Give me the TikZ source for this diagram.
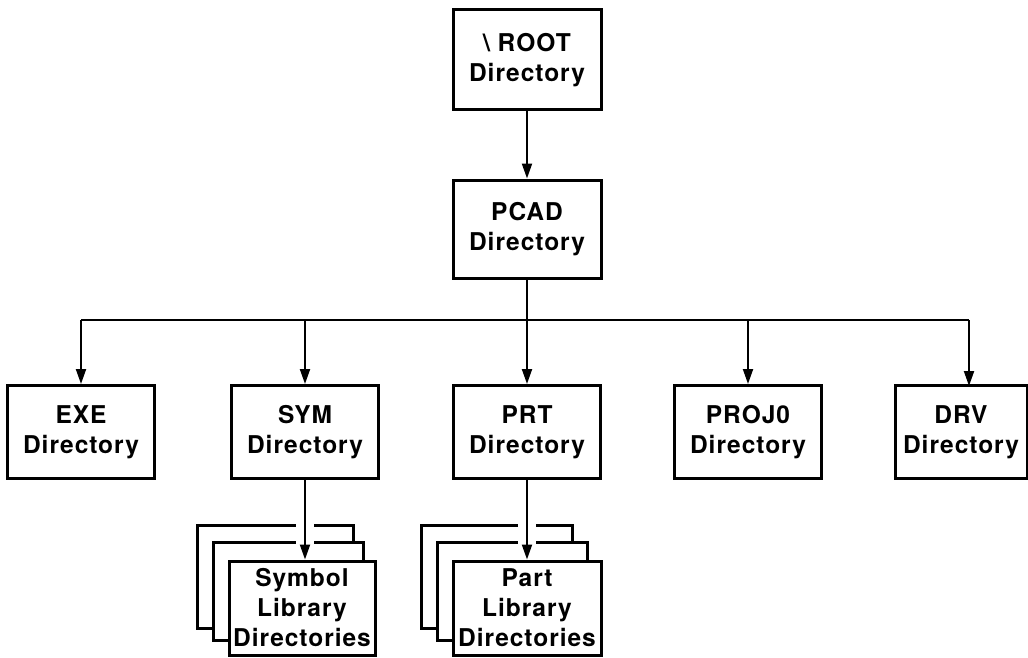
\documentclass[tikz,border=0pt]{standalone}
\usepackage{fontspec}
\setmainfont{TeX Gyre Heros}[LetterSpace=4]
\usetikzlibrary{arrows.meta}
\begin{document}
\begin{tikzpicture}[x=1pt, y=-1pt,
    dirbox/.style={draw, line width=3pt, fill=white, minimum width=147pt, minimum height=93pt,
                   align=center, inner sep=0pt, font=\fontsize{24.5}{30}\selectfont\bfseries},
    backbox/.style={draw, line width=3pt, fill=white},
    link/.style={line width=2pt},
    gap/.style={white, line width=18pt},
    >={Triangle[length=15pt,width=10pt]}]
    \useasboundingbox (0,0) rectangle (1028,658);
    % top of the tree
    \node[dirbox, minimum width=148pt, minimum height=100pt] (root) at (527,60) {\textbackslash\ ROOT\\Directory};
    \node[dirbox, minimum width=148pt, minimum height=98pt] (pcad) at (527,229) {PCAD\\Directory};
    \draw[link,->] (root) -- (pcad);
    % second level
    \node[dirbox] (exe) at (81,432) {EXE\\Directory};
    \node[dirbox] (sym) at (305,432) {SYM\\Directory};
    \node[dirbox] (prt) at (527,432) {PRT\\Directory};
    \node[dirbox] (proj) at (748,432) {PROJ0\\Directory};
    \node[dirbox, minimum width=132pt] (drv) at (961,432) {DRV\\Directory};
    \coordinate (bus) at (527,320);
    \coordinate (drvin) at (969,386);
    \draw[link] (pcad) -- (bus);
    \draw[link] (exe.north |- bus) -- (drvin |- bus);
    \foreach \n in {exe,sym,prt,proj} \draw[link,->] (\n.north |- bus) -- (\n.north);
    \draw[link,->] (drvin |- bus) -- (drvin);
    % library stacks
    \draw[backbox] (197,525) rectangle (353,628);
    \draw[backbox] (213,542) rectangle (363,640);
    \draw[backbox] (421,525) rectangle (572,628);
    \draw[backbox] (437,542) rectangle (587,640);
    \draw[gap] (305,515) -- (305,552);
    \draw[gap] (527,515) -- (527,552);
    \node[dirbox, minimum width=146pt, minimum height=94pt] (symlib) at (302,608) {Symbol\\Library\\Directories};
    \node[dirbox, minimum width=148pt, minimum height=94pt] (prtlib) at (527,608) {Part\\Library\\Directories};
    \draw[link,->] (sym) -- (sym.south |- symlib.north);
    \draw[link,->] (prt) -- (prtlib);
\end{tikzpicture}
\end{document}
